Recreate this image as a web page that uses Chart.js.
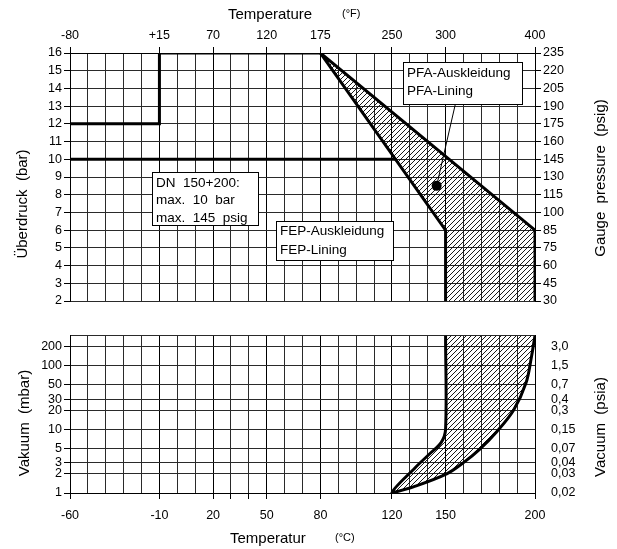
<!DOCTYPE html>
<html>
<head>
<meta charset="utf-8">
<script src="https://cdn.jsdelivr.net/npm/chart.js@4.4.1/dist/chart.umd.min.js"></script>
<style>
  html, body { margin: 0; padding: 0; background: #fff; }
  #wrap { position: relative; width: 617px; height: 549px; }
  canvas { position: absolute; left: 0; }
</style>
</head>
<body>
<div id="wrap">
  <canvas id="pressureChart" width="617" height="312" style="top:0"></canvas>
  <canvas id="vacuumChart" width="617" height="237" style="top:312px"></canvas>
</div>
<script>
// axis labels
const tempTicksC = [-60, -10, 20, 50, 80, 120, 150, 200];
const tempLabelsF = ["-80", "+15", "70", "120", "175", "250", "300", "400"];
const bottomTickMarksC = [-60, -10, 20, 30, 40, 50, 80, 120, 150, 200];
const gaugePsig = ["30", "45", "60", "75", "85", "100", "115", "130", "145", "160", "175", "190", "205", "220", "235"];
const vacuumTicksMbar = [1, 2, 3, 5, 10, 20, 30, 50, 100, 200];
const vacuumPsia = ["0,02", "0,03", "0,04", "0,07", "0,15", "0,3", "0,4", "0,7", "1,5", "3,0"];

// overpressure limits (°C / bar)
const limitTempC = [-60, -10, -10, 80];
const limitBar = [12, 12, 16, 16];
const dnTempC = [-60, 122];
const dnBar = [10, 10];
const fepTempC = [150, 150, 80];
const fepBar = [2, 6, 16];
const pfaTempC = [80, 200, 200];
const pfaBar = [16, 6, 2];
const pointerTempC = [145, 156];
const pointerBar = [8.5, 13.35];

// vacuum limits (°C / mbar)
const fepVacTempC = [150, 150, 147.5, 141, 133, 120];
const fepVacMbar = [300, 10, 6.2, 4.1, 2.5, 1];
const pfaVacTempC = [120, 132, 150.6, 160, 169, 178.6, 188, 195, 198, 200];
const pfaVacMbar = [1, 1.25, 2.0, 3.0, 4.85, 9.2, 20, 54, 138, 300];

const FONT = "Liberation Sans";
const tickFont = { family: FONT, size: 12.5 };
const GRID = "#2a2a2a";

const toPoints = (xs, ys) => xs.map((x, i) => ({ x, y: ys[i] }));

const makeHatch = () => {
  const c = document.createElement("canvas");
  c.width = 5;
  c.height = 5;
  const g = c.getContext("2d");
  g.strokeStyle = "#000";
  g.lineWidth = 0.9;
  g.beginPath();
  g.moveTo(0, 5); g.lineTo(5, 0);
  g.moveTo(-1, 1); g.lineTo(1, -1);
  g.moveTo(4, 6); g.lineTo(6, 4);
  g.stroke();
  return g.createPattern(c, "repeat");
};
const hatch = makeHatch();

// free text: axis titles and note boxes
const textPlugin = {
  id: "drawingText",
  afterDatasetsDraw(chart, args, opts) {
    const ctx = chart.ctx;
    (opts.boxes || []).forEach((b) => {
      ctx.save();
      ctx.fillStyle = "#fff";
      ctx.strokeStyle = "#000";
      ctx.lineWidth = 1;
      ctx.fillRect(b.x, b.y, b.w, b.h);
      ctx.strokeRect(b.x + 0.5, b.y + 0.5, b.w, b.h);
      ctx.fillStyle = "#000";
      ctx.font = `13.5px "${FONT}"`;
      ctx.textBaseline = "middle";
      b.lines.forEach((t, i) => ctx.fillText(t, b.x + 4, b.y + b.first + i * b.step));
      ctx.restore();
    });
  },
  afterDraw(chart, args, opts) {
    const ctx = chart.ctx;
    (opts.titles || []).forEach((t) => {
      ctx.save();
      ctx.translate(t.x, t.y);
      ctx.rotate(t.rotate || 0);
      ctx.fillStyle = "#000";
      ctx.font = `${t.size || 15}px "${FONT}"`;
      ctx.textAlign = t.align || "center";
      ctx.textBaseline = "middle";
      ctx.fillText(t.text, 0, 0);
      ctx.restore();
    });
  }
};

const tempAxis = (position, height, labelFor, markAt, padding) => ({
  type: "linear",
  position,
  min: -60,
  max: 200,
  ticks: {
    stepSize: 10,
    autoSkip: false,
    maxRotation: 0,
    padding,
    color: "#000",
    font: tickFont,
    callback: (v) => labelFor(v)
  },
  grid: {
    color: (c) => (tempTicksC.includes(c.tick.value) ? "#000" : GRID),
    tickColor: (c) => (markAt.includes(c.tick.value) ? "#000" : "rgba(0,0,0,0)"),
    tickLength: 6,
    lineWidth: 1
  },
  border: { color: "#000", width: 1 },
  afterFit: (s) => { s.height = height; }
});

const common = {
  responsive: false,
  animation: false,
  events: [],
  plugins: { legend: { display: false }, tooltip: { enabled: false } }
};

new Chart(document.getElementById("pressureChart"), {
  type: "scatter",
  data: {
    datasets: [
      {
        data: toPoints(fepTempC, fepBar).concat(toPoints(pfaTempC, pfaBar).slice(1)),
        showLine: true,
        borderColor: "#000",
        borderWidth: 3,
        backgroundColor: hatch,
        fill: "shape",
        pointRadius: 0
      },
      {
        data: toPoints(limitTempC, limitBar),
        showLine: true,
        borderColor: "#000",
        borderWidth: 3,
        pointRadius: 0
      },
      {
        data: toPoints(dnTempC, dnBar),
        showLine: true,
        borderColor: "#000",
        borderWidth: 3,
        pointRadius: 0
      },
      {
        data: toPoints(pointerTempC, pointerBar),
        showLine: true,
        borderColor: "#000",
        borderWidth: 1,
        pointRadius: [5, 0],
        pointBackgroundColor: "#000",
        pointBorderWidth: 0
      }
    ]
  },
  options: {
    ...common,
    layout: { padding: { top: 0, bottom: 11, left: 0, right: 0 } },
    scales: {
      x: tempAxis("top", 53, (v) => {
        const i = tempTicksC.indexOf(v);
        return i >= 0 ? tempLabelsF[i] : "";
      }, tempTicksC, 4),
      y: {
        min: 2,
        max: 16,
        ticks: { stepSize: 1, autoSkip: false, padding: 2, color: "#000", font: tickFont, callback: (v) => String(v) },
        grid: { color: GRID, tickColor: "#000", tickLength: 6 },
        border: { color: "#000" },
        afterFit: (s) => { s.width = 70; }
      },
      yPsig: {
        position: "right",
        min: 2,
        max: 16,
        ticks: { stepSize: 1, autoSkip: false, padding: 2, color: "#000", font: tickFont, callback: (v) => gaugePsig[v - 2] },
        grid: { drawOnChartArea: false, tickColor: "#000", tickLength: 6 },
        border: { color: "#000" },
        afterFit: (s) => { s.width = 82; }
      }
    },
    plugins: {
      ...common.plugins,
      drawingText: {
        titles: [
          { text: "Temperature", x: 228, y: 15, align: "left" },
          { text: "(°F)", x: 342, y: 14, align: "left", size: 11 },
          { text: "Überdruck  (bar)", x: 23, y: 204, rotate: -Math.PI / 2 },
          { text: "Gauge  pressure  (psig)", x: 601, y: 178, rotate: -Math.PI / 2 }
        ],
        boxes: [
          { x: 152, y: 172, w: 106, h: 53, first: 11, step: 17.5, lines: ["DN  150+200:", "max.  10  bar", "max.  145  psig"] },
          { x: 276, y: 221, w: 117, h: 39, first: 10.5, step: 18.5, lines: ["FEP-Auskleidung", "FEP-Lining"] },
          { x: 403, y: 62, w: 119, h: 42, first: 11, step: 18.5, lines: ["PFA-Auskleidung", "PFA-Lining"] }
        ]
      }
    }
  },
  plugins: [textPlugin]
});

new Chart(document.getElementById("vacuumChart"), {
  type: "scatter",
  data: {
    datasets: [
      {
        data: toPoints(fepVacTempC, fepVacMbar).concat(toPoints(pfaVacTempC, pfaVacMbar).slice(1)),
        showLine: true,
        tension: 0.35,
        borderColor: "#000",
        borderWidth: 3,
        backgroundColor: hatch,
        fill: "shape",
        pointRadius: 0
      }
    ]
  },
  options: {
    ...common,
    layout: { padding: { top: 20, bottom: 0, left: 0, right: 0 } },
    scales: {
      x: tempAxis("bottom", 56, (v) => (tempTicksC.includes(v) ? String(v) : ""), bottomTickMarksC, 9),
      y: {
        type: "logarithmic",
        min: 1,
        max: 300,
        afterBuildTicks: (s) => { s.ticks = vacuumTicksMbar.concat([300]).map((v) => ({ value: v })); },
        ticks: {
          autoSkip: false,
          padding: 2,
          color: "#000",
          font: tickFont,
          callback: (v) => (vacuumTicksMbar.includes(v) ? String(v) : "")
        },
        grid: {
          color: GRID,
          tickColor: (c) => (c.tick.value === 300 ? "rgba(0,0,0,0)" : "#000"),
          tickLength: 6
        },
        border: { color: "#000" },
        afterFit: (s) => { s.width = 70; }
      },
      yPsia: {
        type: "logarithmic",
        position: "right",
        min: 1,
        max: 300,
        afterBuildTicks: (s) => { s.ticks = vacuumTicksMbar.map((v) => ({ value: v })); },
        ticks: {
          autoSkip: false,
          padding: 16,
          color: "#000",
          font: tickFont,
          callback: (v) => vacuumPsia[vacuumTicksMbar.indexOf(v)]
        },
        grid: { drawOnChartArea: false, drawTicks: false },
        border: { color: "#000" },
        afterFit: (s) => { s.width = 82; }
      }
    },
    plugins: {
      ...common.plugins,
      drawingText: {
        titles: [
          { text: "Temperatur", x: 230, y: 227, align: "left" },
          { text: "(°C)", x: 335, y: 226, align: "left", size: 11 },
          { text: "Vakuum  (mbar)", x: 25, y: 111, rotate: -Math.PI / 2 },
          { text: "Vacuum  (psia)", x: 601, y: 115, rotate: -Math.PI / 2 }
        ]
      }
    }
  },
  plugins: [textPlugin]
});
</script>
</body>
</html>
